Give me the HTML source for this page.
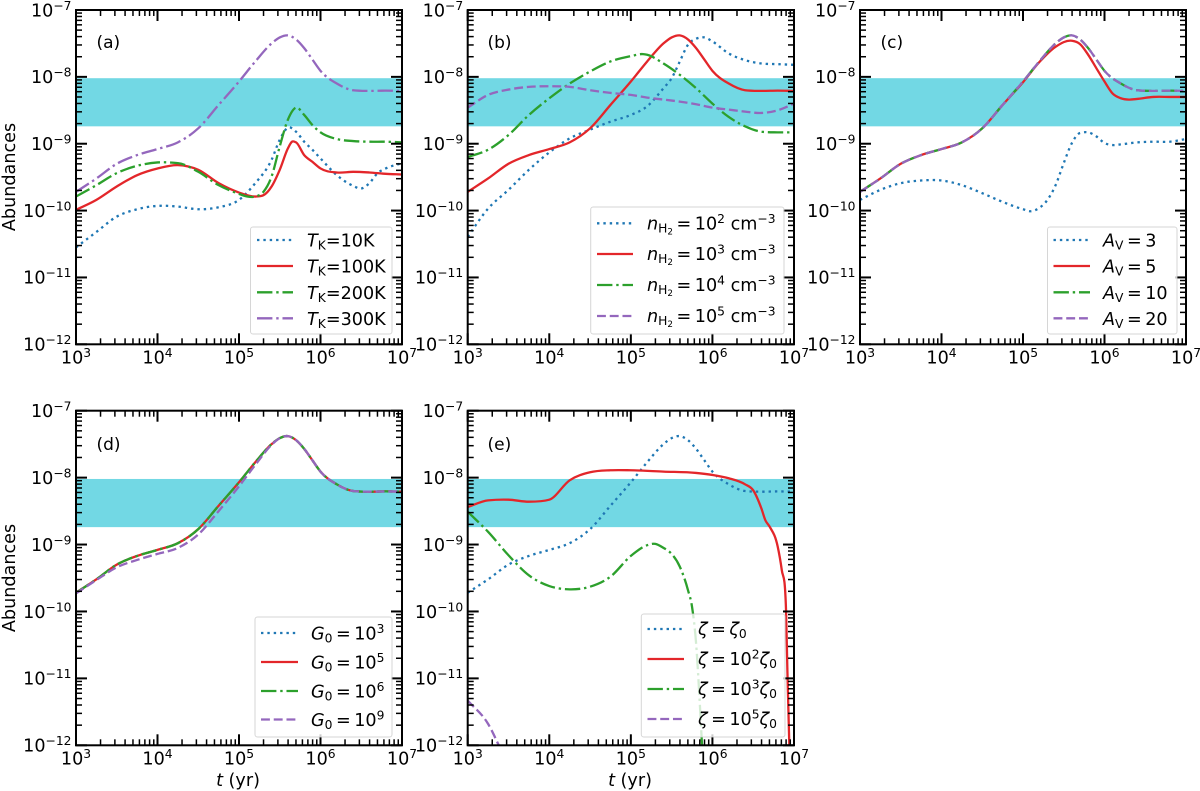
<!DOCTYPE html>
<html lang="en">
<head>
<meta charset="utf-8">
<title>Abundances versus time</title>
<style>
html,body{margin:0;padding:0;background:#fff;}
svg{display:block;}
text{font-family:"DejaVu Sans","Liberation Sans",sans-serif;fill:#000;white-space:pre;}
.leg{font-size:17.6px;}
.i{font-style:italic;}
.s{font-size:12.3px;}
.ss{font-size:8.8px;}
.panel-tag{font-size:17px;}
.axt{font-size:17.6px;}
</style>
</head>
<body>
<svg id="fig" xmlns="http://www.w3.org/2000/svg" width="1200" height="791" viewBox="0 0 1200 791">
  <g id="panel-a"></g>
  <g id="panel-b"></g>
  <g id="panel-c"></g>
  <g id="panel-d"></g>
  <g id="panel-e"></g>

  <text class="panel-tag" x="96.5" y="48">(a)</text>
  <text class="panel-tag" x="487.5" y="48">(b)</text>
  <text class="panel-tag" x="880.5" y="48">(c)</text>
  <text class="panel-tag" x="96.5" y="450">(d)</text>
  <text class="panel-tag" x="487.5" y="450">(e)</text>

  <text class="axt" transform="translate(15,177) rotate(-90)" text-anchor="middle">Abundances</text>
  <text class="axt" transform="translate(15,578) rotate(-90)" text-anchor="middle">Abundances</text>
  <text class="axt" x="238" y="786" text-anchor="middle"><tspan class="i">t</tspan> (yr)</text>
  <text class="axt" x="630" y="786" text-anchor="middle"><tspan class="i">t</tspan> (yr)</text>

  <!-- Legend (a) -->
  <g>
    <rect x="250.5" y="227" width="141.5" height="107" rx="2.5" fill="#fff" fill-opacity="0.8" stroke="#ccc" stroke-opacity="0.8"/>
    <line x1="257" x2="293" y1="240" y2="240" stroke="#1f77b4" stroke-width="2.3" stroke-dasharray="2.4 3.96"/>
    <text class="leg" x="307" y="246.5"><tspan class="i">T</tspan><tspan class="s" dy="3">K</tspan><tspan dy="-3">=10K</tspan></text>
    <line x1="257" x2="293" y1="266" y2="266" stroke="#e3262a" stroke-width="2.3"/>
    <text class="leg" x="307" y="272.5"><tspan class="i">T</tspan><tspan class="s" dy="3">K</tspan><tspan dy="-3">=100K</tspan></text>
    <line x1="257" x2="293" y1="292.3" y2="292.3" stroke="#2ca02c" stroke-width="2.3" stroke-dasharray="15.4 3.84 2.4 3.84"/>
    <text class="leg" x="307" y="298.8"><tspan class="i">T</tspan><tspan class="s" dy="3">K</tspan><tspan dy="-3">=200K</tspan></text>
    <line x1="257" x2="293" y1="318.3" y2="318.3" stroke="#9467bd" stroke-width="2.3" stroke-dasharray="15.4 3.84 2.4 3.84"/>
    <text class="leg" x="307" y="324.8"><tspan class="i">T</tspan><tspan class="s" dy="3">K</tspan><tspan dy="-3">=300K</tspan></text>
  </g>

  <!-- Legend (b) -->
  <g>
    <rect x="590.7" y="207" width="193.3" height="127" rx="2.5" fill="#fff" fill-opacity="0.8" stroke="#ccc" stroke-opacity="0.8"/>
    <line x1="597" x2="633" y1="223.3" y2="223.3" stroke="#1f77b4" stroke-width="2.3" stroke-dasharray="2.4 3.96"/>
    <text class="leg" x="647" y="229.5"><tspan class="i">n</tspan><tspan class="s" dy="3">H</tspan><tspan class="ss" dy="2">2</tspan><tspan dy="-5" dx="3.5">=</tspan><tspan dx="3.5">10</tspan><tspan class="s" dy="-6.5">2</tspan><tspan dy="6.5"> cm</tspan><tspan class="s" dy="-6.5">−3</tspan></text>
    <line x1="597" x2="633" y1="254" y2="254" stroke="#e3262a" stroke-width="2.3"/>
    <text class="leg" x="647" y="260.2"><tspan class="i">n</tspan><tspan class="s" dy="3">H</tspan><tspan class="ss" dy="2">2</tspan><tspan dy="-5" dx="3.5">=</tspan><tspan dx="3.5">10</tspan><tspan class="s" dy="-6.5">3</tspan><tspan dy="6.5"> cm</tspan><tspan class="s" dy="-6.5">−3</tspan></text>
    <line x1="597" x2="633" y1="285" y2="285" stroke="#2ca02c" stroke-width="2.3" stroke-dasharray="15.4 3.84 2.4 3.84"/>
    <text class="leg" x="647" y="291.2"><tspan class="i">n</tspan><tspan class="s" dy="3">H</tspan><tspan class="ss" dy="2">2</tspan><tspan dy="-5" dx="3.5">=</tspan><tspan dx="3.5">10</tspan><tspan class="s" dy="-6.5">4</tspan><tspan dy="6.5"> cm</tspan><tspan class="s" dy="-6.5">−3</tspan></text>
    <line x1="597" x2="633" y1="316" y2="316" stroke="#9467bd" stroke-width="2.3" stroke-dasharray="8.9 3.84"/>
    <text class="leg" x="647" y="322.2"><tspan class="i">n</tspan><tspan class="s" dy="3">H</tspan><tspan class="ss" dy="2">2</tspan><tspan dy="-5" dx="3.5">=</tspan><tspan dx="3.5">10</tspan><tspan class="s" dy="-6.5">5</tspan><tspan dy="6.5"> cm</tspan><tspan class="s" dy="-6.5">−3</tspan></text>
  </g>

  <!-- Legend (c) -->
  <g>
    <rect x="1047.5" y="227" width="129.5" height="107" rx="2.5" fill="#fff" fill-opacity="0.8" stroke="#ccc" stroke-opacity="0.8"/>
    <line x1="1053.5" x2="1090" y1="240" y2="240" stroke="#1f77b4" stroke-width="2.3" stroke-dasharray="2.4 3.96"/>
    <text class="leg" x="1103" y="246.5"><tspan class="i">A</tspan><tspan class="s" dy="3">V</tspan><tspan dy="-3" dx="3.5">=</tspan><tspan dx="3.5">3</tspan></text>
    <line x1="1053.5" x2="1090" y1="266" y2="266" stroke="#e3262a" stroke-width="2.3"/>
    <text class="leg" x="1103" y="272.5"><tspan class="i">A</tspan><tspan class="s" dy="3">V</tspan><tspan dy="-3" dx="3.5">=</tspan><tspan dx="3.5">5</tspan></text>
    <line x1="1053.5" x2="1090" y1="292.3" y2="292.3" stroke="#2ca02c" stroke-width="2.3" stroke-dasharray="15.4 3.84 2.4 3.84"/>
    <text class="leg" x="1103" y="298.8"><tspan class="i">A</tspan><tspan class="s" dy="3">V</tspan><tspan dy="-3" dx="3.5">=</tspan><tspan dx="3.5">10</tspan></text>
    <line x1="1053.5" x2="1090" y1="318.3" y2="318.3" stroke="#9467bd" stroke-width="2.3" stroke-dasharray="8.9 3.84"/>
    <text class="leg" x="1103" y="324.8"><tspan class="i">A</tspan><tspan class="s" dy="3">V</tspan><tspan dy="-3" dx="3.5">=</tspan><tspan dx="3.5">20</tspan></text>
  </g>

  <!-- Legend (d) -->
  <g>
    <rect x="255" y="617" width="137" height="120" rx="2.5" fill="#fff" fill-opacity="0.8" stroke="#ccc" stroke-opacity="0.8"/>
    <line x1="261" x2="298" y1="633" y2="633" stroke="#1f77b4" stroke-width="2.3" stroke-dasharray="2.4 3.96"/>
    <text class="leg" x="311" y="639.5"><tspan class="i">G</tspan><tspan class="s" dy="3">0</tspan><tspan dy="-3" dx="3.5">=</tspan><tspan dx="3.5">10</tspan><tspan class="s" dy="-6.5">3</tspan></text>
    <line x1="261" x2="298" y1="662" y2="662" stroke="#e3262a" stroke-width="2.3"/>
    <text class="leg" x="311" y="668.5"><tspan class="i">G</tspan><tspan class="s" dy="3">0</tspan><tspan dy="-3" dx="3.5">=</tspan><tspan dx="3.5">10</tspan><tspan class="s" dy="-6.5">5</tspan></text>
    <line x1="261" x2="298" y1="691" y2="691" stroke="#2ca02c" stroke-width="2.3" stroke-dasharray="15.4 3.84 2.4 3.84"/>
    <text class="leg" x="311" y="697.5"><tspan class="i">G</tspan><tspan class="s" dy="3">0</tspan><tspan dy="-3" dx="3.5">=</tspan><tspan dx="3.5">10</tspan><tspan class="s" dy="-6.5">6</tspan></text>
    <line x1="261" x2="298" y1="719.5" y2="719.5" stroke="#9467bd" stroke-width="2.3" stroke-dasharray="8.9 3.84"/>
    <text class="leg" x="311" y="726"><tspan class="i">G</tspan><tspan class="s" dy="3">0</tspan><tspan dy="-3" dx="3.5">=</tspan><tspan dx="3.5">10</tspan><tspan class="s" dy="-6.5">9</tspan></text>
  </g>

  <!-- Legend (e) -->
  <g>
    <rect x="641.3" y="614" width="143.7" height="123" rx="2.5" fill="#fff" fill-opacity="0.8" stroke="#ccc" stroke-opacity="0.8"/>
    <line x1="647.5" x2="684" y1="629" y2="629" stroke="#1f77b4" stroke-width="2.3" stroke-dasharray="2.4 3.96"/>
    <text class="leg" x="698" y="635"><tspan class="i">ζ</tspan><tspan dx="3.5">=</tspan><tspan class="i" dx="3.5">ζ</tspan><tspan class="s" dy="3">0</tspan></text>
    <line x1="647.5" x2="684" y1="659" y2="659" stroke="#e3262a" stroke-width="2.3"/>
    <text class="leg" x="698" y="665"><tspan class="i">ζ</tspan><tspan dx="3.5">=</tspan><tspan dx="3.5">10</tspan><tspan class="s" dy="-6.5">2</tspan><tspan class="i" dy="6.5">ζ</tspan><tspan class="s" dy="3">0</tspan></text>
    <line x1="647.5" x2="684" y1="689" y2="689" stroke="#2ca02c" stroke-width="2.3" stroke-dasharray="15.4 3.84 2.4 3.84"/>
    <text class="leg" x="698" y="695"><tspan class="i">ζ</tspan><tspan dx="3.5">=</tspan><tspan dx="3.5">10</tspan><tspan class="s" dy="-6.5">3</tspan><tspan class="i" dy="6.5">ζ</tspan><tspan class="s" dy="3">0</tspan></text>
    <line x1="647.5" x2="684" y1="719" y2="719" stroke="#9467bd" stroke-width="2.3" stroke-dasharray="8.9 3.84"/>
    <text class="leg" x="698" y="725"><tspan class="i">ζ</tspan><tspan dx="3.5">=</tspan><tspan dx="3.5">10</tspan><tspan class="s" dy="-6.5">5</tspan><tspan class="i" dy="6.5">ζ</tspan><tspan class="s" dy="3">0</tspan></text>
  </g>
</svg>

<script>
// ---- axis values (log10 of t and of abundance) ----
const xTickExponents = [3, 4, 5, 6, 7];
const yTickExponents = [-7, -8, -9, -10, -11, -12];
const xTickLabels = ["3", "4", "5", "6", "7"];
const yTickLabels = ["−7", "−8", "−9", "−10", "−11", "−12"];
const minorMultipliers = [2, 3, 4, 5, 6, 7, 8, 9];
const bandLogRange = [-8.02, -8.74];

// ---- shared time grid, log10(t / yr) ----
const gridT = [3, 3.25, 3.5, 3.75, 4, 4.25, 4.5, 4.75, 5, 5.2, 5.4, 5.5, 5.6, 5.7, 5.8, 5.9, 6, 6.2, 6.4, 6.6, 6.8, 7];

// reference model, log10(abundance), on gridT
const baseY = [-9.72, -9.52, -9.30, -9.17, -9.08, -8.98, -8.77, -8.42, -8.07, -7.77, -7.50, -7.41, -7.38, -7.44, -7.57, -7.74, -7.91, -8.10, -8.20, -8.21, -8.206, -8.21];

// ---- panel (a) ----
const aT10T = [3, 3.25, 3.5, 3.75, 4, 4.25, 4.5, 4.75, 5, 5.2, 5.4, 5.5, 5.6, 5.7, 5.8, 5.9, 6, 6.2, 6.4, 6.5, 6.6, 6.7, 6.8, 7];
const aT10Y = [-10.55, -10.32, -10.09, -9.98, -9.93, -9.94, -9.98, -9.95, -9.84, -9.59, -9.24, -8.94, -8.76, -8.82, -8.97, -9.09, -9.22, -9.47, -9.63, -9.67, -9.59, -9.44, -9.37, -9.29];
const aT100T = [3, 3.25, 3.5, 3.75, 4, 4.25, 4.5, 4.75, 5, 5.2, 5.3, 5.4, 5.5, 5.6, 5.65, 5.7, 5.8, 5.9, 6, 6.2, 6.4, 6.6, 6.8, 7];
const aT100Y = [-9.99, -9.84, -9.64, -9.47, -9.37, -9.32, -9.39, -9.59, -9.73, -9.79, -9.77, -9.64, -9.39, -9.07, -8.97, -8.98, -9.17, -9.27, -9.37, -9.43, -9.42, -9.43, -9.45, -9.46];
const aT200T = [3, 3.25, 3.5, 3.75, 4, 4.25, 4.5, 4.75, 5, 5.1, 5.2, 5.3, 5.4, 5.5, 5.6, 5.7, 5.8, 5.9, 6, 6.2, 6.4, 6.6, 6.8, 7];
const aT200Y = [-9.79, -9.62, -9.44, -9.33, -9.28, -9.29, -9.42, -9.62, -9.75, -9.79, -9.79, -9.72, -9.49, -9.04, -8.64, -8.46, -8.57, -8.72, -8.83, -8.93, -8.96, -8.97, -8.97, -8.98];

// ---- panel (b) ----
const bN2T = [3, 3.25, 3.5, 3.75, 4, 4.25, 4.5, 4.75, 5, 5.2, 5.4, 5.5, 5.6, 5.7, 5.8, 5.9, 6, 6.2, 6.4, 6.6, 6.8, 7];
const bN2Y = [-10.39, -9.97, -9.69, -9.39, -9.13, -8.92, -8.79, -8.67, -8.57, -8.44, -8.17, -8.02, -7.77, -7.52, -7.43, -7.41, -7.47, -7.65, -7.75, -7.80, -7.81, -7.82];
const bN4T = [3, 3.25, 3.5, 3.75, 4, 4.25, 4.5, 4.75, 5, 5.15, 5.2, 5.4, 5.6, 5.8, 6, 6.2, 6.4, 6.6, 6.8, 7];
const bN4Y = [-9.20, -9.09, -8.87, -8.57, -8.32, -8.10, -7.92, -7.77, -7.69, -7.66, -7.67, -7.80, -7.97, -8.17, -8.40, -8.60, -8.74, -8.82, -8.83, -8.83];
const bN5T = [3, 3.25, 3.5, 3.75, 4, 4.25, 4.5, 4.75, 5, 5.2, 5.4, 5.6, 5.8, 6, 6.2, 6.4, 6.6, 6.8, 7];
const bN5Y = [-8.46, -8.27, -8.19, -8.15, -8.14, -8.15, -8.20, -8.24, -8.27, -8.31, -8.34, -8.37, -8.41, -8.46, -8.49, -8.52, -8.54, -8.50, -8.40];

// ---- panel (c) ----
const cAv3T = [3, 3.25, 3.5, 3.75, 4, 4.25, 4.5, 4.75, 5, 5.1, 5.2, 5.3, 5.4, 5.5, 5.6, 5.7, 5.8, 5.9, 6, 6.1, 6.2, 6.4, 6.6, 6.8, 7];
const cAv3Y = [-9.84, -9.69, -9.59, -9.55, -9.55, -9.62, -9.74, -9.87, -9.98, -10.01, -9.96, -9.84, -9.62, -9.29, -8.99, -8.84, -8.83, -8.89, -8.99, -9.02, -9.01, -8.98, -8.97, -8.97, -8.93];
const cAv5T = [3, 3.25, 3.5, 3.75, 4, 4.25, 4.5, 4.75, 5, 5.2, 5.4, 5.6, 5.7, 5.8, 5.9, 6, 6.1, 6.2, 6.3, 6.4, 6.6, 6.8, 7];
const cAv5Y = [-9.72, -9.52, -9.30, -9.17, -9.08, -8.98, -8.77, -8.42, -8.08, -7.78, -7.55, -7.46, -7.51, -7.67, -7.87, -8.07, -8.25, -8.32, -8.34, -8.33, -8.30, -8.30, -8.30];

// ---- panel (d) ----
const dG9Y = [-9.73, -9.53, -9.34, -9.23, -9.14, -9.05, -8.85, -8.50, -8.13, -7.81, -7.51, -7.41, -7.38, -7.44, -7.57, -7.74, -7.91, -8.10, -8.20, -8.21, -8.206, -8.21];

// ---- panel (e) ----
const eZ2T = [3, 3.25, 3.5, 3.75, 4, 4.25, 4.5, 4.75, 5, 5.4, 5.8, 6, 6.2, 6.4, 6.5, 6.6, 6.65, 6.7, 6.8, 6.85, 6.9, 6.92, 6.945, 7];
const eZ2Y = [-8.44, -8.34, -8.33, -8.36, -8.33, -8.04, -7.92, -7.89, -7.89, -7.91, -7.93, -7.96, -8.01, -8.10, -8.19, -8.46, -8.64, -8.73, -9.03, -9.38, -9.90, -10.93, -12.1, -13];
const eZ3T = [3, 3.25, 3.5, 3.75, 4, 4.25, 4.5, 4.75, 5, 5.2, 5.3, 5.4, 5.5, 5.6, 5.7, 5.75, 5.8, 5.85, 5.875, 5.95];
const eZ3Y = [-8.51, -8.81, -9.16, -9.46, -9.62, -9.67, -9.63, -9.48, -9.17, -9.01, -8.99, -9.05, -9.14, -9.33, -9.68, -9.93, -10.48, -11.48, -12.05, -13];
const eZ5T = [3, 3.25, 3.42];
const eZ5Y = [-11.33, -11.68, -12.1];

const NS = "http://www.w3.org/2000/svg";
const C_BLUE = "#1f77b4", C_RED = "#e3262a", C_GREEN = "#2ca02c", C_PURPLE = "#9467bd";
const DOT = "2.4 3.96", DASHDOT = "15.4 3.84 2.4 3.84", DASH = "8.9 3.84";

function el(tag, attrs, parent) {
  const e = document.createElementNS(NS, tag);
  for (const k in attrs) e.setAttribute(k, attrs[k]);
  parent.appendChild(e);
  return e;
}

// smooth cubic path through the sampled points (parabolic tangents, limited on steep monotone runs)
function smoothPath(xs, ys) {
  const n = xs.length, d = [], m = [];
  for (let i = 0; i < n - 1; i++) d.push((ys[i + 1] - ys[i]) / (xs[i + 1] - xs[i]));
  m[0] = d[0];
  m[n - 1] = d[n - 2];
  for (let i = 1; i < n - 1; i++) {
    const h0 = xs[i] - xs[i - 1], h1 = xs[i + 1] - xs[i];
    let t = (h1 * d[i - 1] + h0 * d[i]) / (h0 + h1);
    if (d[i - 1] * d[i] > 0) {
      const lim = 3 * Math.min(Math.abs(d[i - 1]), Math.abs(d[i]));
      if (Math.abs(t) > lim) t = Math.sign(t) * lim;
    }
    m[i] = t;
  }
  let p = "M" + xs[0].toFixed(2) + " " + ys[0].toFixed(2);
  for (let i = 0; i < n - 1; i++) {
    const h = (xs[i + 1] - xs[i]) / 3;
    p += "C" + (xs[i] + h).toFixed(2) + " " + (ys[i] + m[i] * h).toFixed(2) + " " +
         (xs[i + 1] - h).toFixed(2) + " " + (ys[i + 1] - m[i + 1] * h).toFixed(2) + " " +
         xs[i + 1].toFixed(2) + " " + ys[i + 1].toFixed(2);
  }
  return p;
}

function drawPanel(id, left, right, top, bottom, series) {
  const g = document.getElementById("panel-" + id);
  const xOf = v => left + (v - 3) / 4 * (right - left);
  const yOf = v => top + (-7 - v) / 5 * (bottom - top);

  const clip = el("clipPath", { id: "clip-" + id }, g);
  el("rect", { x: left, y: top, width: right - left, height: bottom - top }, clip);

  const band = el("rect", {
    x: left, y: yOf(bandLogRange[0]), width: right - left,
    height: yOf(bandLogRange[1]) - yOf(bandLogRange[0]), fill: "#72d8e4"
  }, g);
  
  

  const lines = el("g", { "clip-path": "url(#clip-" + id + ")" }, g);
  series.forEach(s => {
    const path = el("path", {
      d: smoothPath(s.t.map(xOf), s.y.map(yOf)),
      fill: "none", stroke: s.color, "stroke-width": 2.3,
      "stroke-linejoin": "round"
    }, lines);
    if (s.dash) path.setAttribute("stroke-dasharray", s.dash);
    
    
  });

  // x ticks
  xTickExponents.forEach((ex, i) => {
    const px = xOf(ex);
    [[bottom, bottom - 11], [top, top + 11]].forEach(pair => {
      const t = el("line", { x1: px, x2: px, y1: pair[0], y2: pair[1], stroke: "#000", "stroke-width": 2 }, g);
      
      
    });
    const lab = el("text", { x: px, y: bottom + 19.3, "text-anchor": "middle", "font-size": "17.6" }, g);
    
    
    el("tspan", {}, lab).textContent = "10";
    const sup = el("tspan", { dy: "-6.5", "font-size": "12.3" }, lab);
    sup.textContent = xTickLabels[i];
    if (ex < 7) minorMultipliers.forEach(m => {
      const mx = xOf(ex + Math.log10(m));
      [[bottom, bottom - 6], [top, top + 6]].forEach(pair => {
        const t = el("line", { x1: mx, x2: mx, y1: pair[0], y2: pair[1], stroke: "#000", "stroke-width": 1.5 }, g);
        
        
      });
    });
  });

  // y ticks
  yTickExponents.forEach((ex, i) => {
    const py = yOf(ex);
    [[left, left + 11], [right, right - 11]].forEach(pair => {
      const t = el("line", { y1: py, y2: py, x1: pair[0], x2: pair[1], stroke: "#000", "stroke-width": 2 }, g);
      
      
    });
    const lab = el("text", { x: left - 4.5, y: py + 6.3, "text-anchor": "end", "font-size": "17.6" }, g);
    
    
    el("tspan", {}, lab).textContent = "10";
    const sup = el("tspan", { dy: "-6.5", "font-size": "12.3" }, lab);
    sup.textContent = yTickLabels[i];
    if (ex > -12) minorMultipliers.forEach(m => {
      const my = yOf(ex - 1 + Math.log10(m));
      [[left, left + 6], [right, right - 6]].forEach(pair => {
        const t = el("line", { y1: my, y2: my, x1: pair[0], x2: pair[1], stroke: "#000", "stroke-width": 1.5 }, g);
        
        
      });
    });
  });

  const frame = el("rect", { x: left, y: top, width: right - left, height: bottom - top, fill: "none", stroke: "#000", "stroke-width": 2 }, g);
  
  
}

drawPanel("a", 76, 402, 10, 344.3, [
  { key: "tk-10k", t: aT10T, y: aT10Y, color: C_BLUE, dash: DOT },
  { key: "tk-100k", t: aT100T, y: aT100Y, color: C_RED },
  { key: "tk-200k", t: aT200T, y: aT200Y, color: C_GREEN, dash: DASHDOT },
  { key: "tk-300k", t: gridT, y: baseY, color: C_PURPLE, dash: DASHDOT }
]);
drawPanel("b", 467.7, 794, 10, 344.3, [
  { key: "nh2-1e2", t: bN2T, y: bN2Y, color: C_BLUE, dash: DOT },
  { key: "nh2-1e3", t: gridT, y: baseY, color: C_RED },
  { key: "nh2-1e4", t: bN4T, y: bN4Y, color: C_GREEN, dash: DASHDOT },
  { key: "nh2-1e5", t: bN5T, y: bN5Y, color: C_PURPLE, dash: DASH }
]);
drawPanel("c", 860, 1186, 10, 344.3, [
  { key: "av-3", t: cAv3T, y: cAv3Y, color: C_BLUE, dash: DOT },
  { key: "av-5", t: cAv5T, y: cAv5Y, color: C_RED },
  { key: "av-10", t: gridT, y: baseY, color: C_GREEN, dash: DASHDOT },
  { key: "av-20", t: gridT, y: baseY, color: C_PURPLE, dash: DASH }
]);
drawPanel("d", 76, 402, 410.7, 745.3, [
  { key: "g0-1e3", t: gridT, y: baseY, color: C_BLUE, dash: DOT },
  { key: "g0-1e5", t: gridT, y: baseY, color: C_RED },
  { key: "g0-1e6", t: gridT, y: baseY, color: C_GREEN, dash: DASHDOT },
  { key: "g0-1e9", t: gridT, y: dG9Y, color: C_PURPLE, dash: DASH }
]);
drawPanel("e", 467.7, 794, 410.7, 745.3, [
  { key: "zeta-1", t: gridT, y: baseY, color: C_BLUE, dash: DOT },
  { key: "zeta-1e2", t: eZ2T, y: eZ2Y, color: C_RED },
  { key: "zeta-1e3", t: eZ3T, y: eZ3Y, color: C_GREEN, dash: DASHDOT },
  { key: "zeta-1e5", t: eZ5T, y: eZ5Y, color: C_PURPLE, dash: DASH }
]);
</script>
</body>
</html>
